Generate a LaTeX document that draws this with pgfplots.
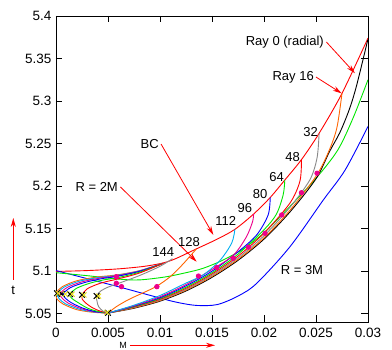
\documentclass[border=0pt]{standalone}
\usepackage{fontspec}
\setmainfont{Liberation Sans}
\usepackage{pgfplots}
\pgfplotsset{compat=1.18}
\usetikzlibrary{arrows.meta}
\definecolor{gorange}{RGB}{255,100,0}
\definecolor{ggrey}{RGB}{136,136,136}
\definecolor{ggreen}{RGB}{0,230,0}
\begin{document}
\begin{tikzpicture}
\fontsize{13}{15}\selectfont
\begin{axis}[
  at={(0,0)}, anchor=south west,
  scale only axis, width=312pt, height=306pt,
  xmin=0, xmax=0.03, ymin=5.04, ymax=5.4,
  xtick={0,0.005,0.01,0.015,0.02,0.025,0.03},
  xticklabels={0,0.005,0.01,0.015,0.02,0.025,0.03},
  ytick={5.05,5.1,5.15,5.2,5.25,5.3,5.35,5.4},
  yticklabels={5.05,5.1,5.15,5.2,5.25,5.3,5.35,5.4},
  scaled ticks=false,
  tick align=inside, major tick length=6.5pt,
  tick style={black, line width=0.6pt},
  axis line style={line width=0.8pt},
  tick label style={font=\fontsize{13.5}{15}\selectfont},
  xticklabel style={yshift=-1.5pt},
  /pgf/number format/assume math mode=true,
  every axis plot/.append style={line width=0.9pt},
  clip=true,
]
% BC
\addplot[red, smooth] coordinates {(0,5.0995)(0.003,5.1005)(0.006,5.1025)(0.0085,5.1055)(0.0103,5.1095)(0.0115,5.1145)(0.0135,5.126)(0.0155,5.1375)(0.0172,5.149)(0.019,5.167)(0.0206,5.1865)(0.022,5.207)(0.0236,5.231)(0.0253,5.262)(0.0275,5.309)(0.0300,5.374)};
% R = 3M
\addplot[blue, smooth] coordinates {(0,5.1005)(0.003,5.091)(0.006,5.0815)(0.009,5.0715)(0.0115,5.0635)(0.0135,5.0595)(0.0155,5.0605)(0.0175,5.0705)(0.0193,5.0855)(0.0225,5.1286)(0.0257,5.1835)(0.0278,5.2188)(0.030,5.27)};
% R = 2M
\addplot[ggreen, smooth] coordinates {(0,5.098)(0.003,5.0945)(0.006,5.0905)(0.008,5.0895)(0.0105,5.093)(0.0125,5.098)(0.0141,5.103)(0.016,5.1125)(0.018,5.126)(0.020,5.145)(0.0225,5.176)(0.025,5.209)(0.0271,5.2424)(0.0286,5.281)(0.030,5.325)};
% rays going right from S
\addplot[black, smooth] coordinates {(0.005,5.0505)(0.0075,5.0562)(0.010,5.0645)(0.0125,5.0765)(0.015,5.0925)(0.0175,5.1125)(0.020,5.1375)(0.0225,5.1695)(0.025,5.2085)(0.0263,5.2405)(0.0273,5.263)(0.0282,5.290)(0.0289,5.318)(0.02998,5.372)};
\addplot[gorange, smooth] coordinates {(0.005,5.0505)(0.0075,5.0567)(0.010,5.0652)(0.0125,5.0775)(0.015,5.0937)(0.0175,5.1138)(0.020,5.139)(0.0225,5.1715)(0.025,5.2115)(0.0262,5.240)(0.0270,5.268)(0.0275,5.309)};
\addplot[ggrey, smooth] coordinates {(0.005,5.0505)(0.0075,5.0572)(0.010,5.066)(0.0125,5.0785)(0.015,5.095)(0.0175,5.1155)(0.020,5.1415)(0.0225,5.175)(0.0244,5.207)(0.0251,5.233)(0.0253,5.262)};
\addplot[red, smooth] coordinates {(0.005,5.0505)(0.0075,5.0577)(0.010,5.0668)(0.0125,5.0797)(0.015,5.0965)(0.0175,5.1175)(0.020,5.1445)(0.0225,5.180)(0.02346,5.206)(0.0236,5.231)};
\addplot[ggreen, smooth] coordinates {(0.005,5.0505)(0.0075,5.0582)(0.010,5.0677)(0.0125,5.081)(0.015,5.098)(0.0175,5.1198)(0.020,5.1485)(0.0212,5.167)(0.02185,5.190)(0.022,5.207)};
\addplot[blue, smooth] coordinates {(0.005,5.0505)(0.0075,5.0587)(0.010,5.0686)(0.0125,5.0825)(0.015,5.0998)(0.0175,5.1225)(0.0193,5.1425)(0.0204,5.166)(0.0206,5.1865)};
\addplot[magenta, smooth] coordinates {(0.005,5.0505)(0.0075,5.0592)(0.010,5.0697)(0.0125,5.084)(0.015,5.1018)(0.01705,5.1185)(0.0183,5.140)(0.0189,5.158)(0.0190,5.167)};
\addplot[cyan, smooth] coordinates {(0.005,5.0505)(0.0075,5.0598)(0.010,5.0712)(0.0125,5.0858)(0.01417,5.0955)(0.01577,5.1125)(0.0169,5.133)(0.0172,5.149)};
\addplot[gorange, smooth] coordinates {(0.005,5.0505)(0.0058,5.058)(0.007,5.0665)(0.0085,5.0750)(0.0097,5.0822)(0.011,5.0935)(0.0122,5.108)(0.0135,5.126)};
% rays turning back (C shapes)
\addplot[gorange, smooth] coordinates {(0.005,5.0505)(0.0035,5.0515)(0.002,5.0545)(0.0007,5.061)(0.0001,5.067)(0.0,5.0738)(0.0006,5.0815)(0.002,5.0885)(0.004,5.0930)(0.0058,5.0953)(0.008,5.1003)(0.0103,5.109)};
\addplot[cyan, smooth] coordinates {(0.005,5.0505)(0.0036,5.0518)(0.0022,5.0552)(0.0009,5.0615)(0.0003,5.0675)(0.00015,5.0735)(0.0008,5.0812)(0.0022,5.0878)(0.0041,5.0924)(0.0058,5.0948)(0.008,5.1001)(0.0103,5.109)};
\addplot[magenta, smooth] coordinates {(0.005,5.0505)(0.0037,5.052)(0.0024,5.0558)(0.0012,5.062)(0.0006,5.068)(0.0004,5.0733)(0.0011,5.0808)(0.0025,5.0872)(0.0043,5.0918)(0.0058,5.0942)(0.008,5.0998)(0.0103,5.109)};
\addplot[blue, smooth] coordinates {(0.005,5.0505)(0.0038,5.0522)(0.0026,5.0562)(0.0015,5.0625)(0.0009,5.068)(0.0007,5.073)(0.0014,5.0805)(0.0028,5.0866)(0.0045,5.0912)(0.0058,5.0935)(0.008,5.0995)(0.0103,5.109)};
\addplot[ggreen, smooth] coordinates {(0.005,5.0505)(0.004,5.0525)(0.003,5.0565)(0.0021,5.063)(0.0015,5.068)(0.00135,5.0728)(0.002,5.0798)(0.0033,5.0858)(0.0047,5.0898)(0.0058,5.0918)(0.008,5.0985)(0.0103,5.109)};
\addplot[red, smooth] coordinates {(0.005,5.0505)(0.0042,5.053)(0.0034,5.0575)(0.0028,5.063)(0.0025,5.0675)(0.0025,5.072)(0.003,5.079)(0.004,5.0845)(0.005,5.0880)(0.0058,5.0902)(0.008,5.0975)(0.0103,5.109)};
\addplot[ggrey, smooth] coordinates {(0.005,5.0505)(0.0045,5.053)(0.0041,5.058)(0.00395,5.064)(0.0039,5.0706)(0.0043,5.0765)(0.005,5.081)(0.0058,5.0845)(0.008,5.0945)(0.0100,5.1055)(0.0112,5.1145)};
% magenta dots
\addplot[only marks, mark=*, mark size=2.2pt, magenta] coordinates {(0.0058,5.0933)(0.0058,5.0855)(0.0063,5.0816)(0.0097,5.0816)(0.0137,5.094)(0.01545,5.104)(0.01705,5.115)(0.0185,5.128)(0.0201,5.1443)(0.0217,5.1659)(0.0236,5.1921)(0.0251,5.215)};
% x markers
\addplot[only marks, mark=x, mark size=4pt, black, line width=1.1pt] coordinates {(0.0001,5.0738)(0.00055,5.073)(0.00135,5.0728)(0.0025,5.072)(0.0039,5.0706)(0.005,5.0508)};
\addplot[only marks, mark=x, mark size=3.5pt, yellow!90!black, line width=0.9pt] coordinates {(0.0002,5.0736)(0.0009,5.0729)(0.00155,5.0727)(0.0027,5.0718)(0.0041,5.0704)(0.0049,5.0512)};
% annotations
\node[anchor=east, inner sep=1pt] at (axis cs:0.02587,5.3694) {Ray 0 (radial)};
\draw[red, line width=0.8pt, -{Stealth[length=9pt,width=5pt]}] (axis cs:0.0260,5.3694) -- (axis cs:0.02875,5.3326);
\node[anchor=east, inner sep=1pt] at (axis cs:0.0249,5.3282) {Ray 16};
\draw[red, line width=0.8pt, -{Stealth[length=9pt,width=5pt]}] (axis cs:0.0250,5.3282) -- (axis cs:0.02747,5.309);
\node[anchor=east, inner sep=1pt] at (axis cs:0.0100,5.2494) {BC};
\draw[red, line width=0.8pt, -{Stealth[length=9pt,width=5pt]}] (axis cs:0.0101,5.2494) -- (axis cs:0.01513,5.1424);
\node[anchor=east, inner sep=1pt] at (axis cs:0.00606,5.1988) {R = 2M};
\draw[red, line width=0.8pt, -{Stealth[length=9pt,width=5pt]}] (axis cs:0.0062,5.1988) -- (axis cs:0.01353,5.1109);
\node at (axis cs:0.02365,5.1012) {R = 3M};
\node at (axis cs:0.02449,5.2639) {32};
\node at (axis cs:0.02276,5.2338) {48};
\node at (axis cs:0.02122,5.2109) {64};
\node at (axis cs:0.01962,5.1906) {80};
\node at (axis cs:0.01817,5.1738) {96};
\node at (axis cs:0.01632,5.1592) {112};
\node at (axis cs:0.01279,5.1345) {128};
\node at (axis cs:0.01032,5.1227) {144};
\end{axis}
% axis labels with arrows
\node at (-42.7pt,32pt) {t};
\draw[red, line width=0.8pt, -{Stealth[length=9pt,width=5pt]}] (-42.7pt,42pt) -- (-42.7pt,104pt);
\node[inner sep=0pt, font=\fontsize{9}{10}\selectfont] at (67pt,-23.3pt) {M};
\draw[red, line width=0.8pt, -{Stealth[length=9pt,width=5pt]}] (74pt,-23.3pt) -- (159pt,-23.3pt);
\pgfresetboundingbox
\useasboundingbox (-56pt,-28pt) rectangle (336pt,322pt);
\end{tikzpicture}
\end{document}
